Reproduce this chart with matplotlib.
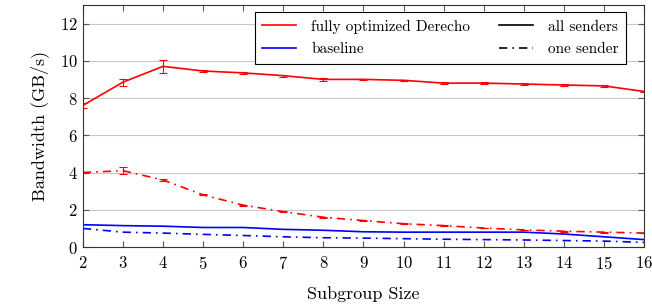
import matplotlib.pyplot as plt
import numpy as np

plt.rcParams['font.family'] = 'serif'
plt.rcParams['font.serif'] = ['cmr10']
plt.rcParams['mathtext.fontset'] = 'cm'
plt.rcParams['axes.formatter.use_mathtext'] = True

# Subgroup sizes
sizes = np.arange(2, 17)

# fully optimized Derecho
derecho_all = [7.6, 8.85, 9.7, 9.45, 9.35, 9.2, 9.0, 9.0, 8.95, 8.8, 8.8, 8.75, 8.7, 8.65, 8.35]
derecho_all_err = [0.12, 0.18, 0.33, 0.05, 0.06, 0.05, 0.06, 0.04, 0.04, 0.04, 0.04, 0.04, 0.04, 0.05, 0.05]
derecho_one = [4.0, 4.1, 3.6, 2.8, 2.25, 1.9, 1.6, 1.42, 1.25, 1.15, 1.02, 0.92, 0.85, 0.8, 0.75]
derecho_one_err = [0.04, 0.18, 0.04, 0.03, 0.03, 0.03, 0.03, 0.02, 0.02, 0.02, 0.02, 0.02, 0.02, 0.02, 0.02]

# baseline
baseline_all = [1.2, 1.15, 1.12, 1.05, 1.05, 0.95, 0.9, 0.82, 0.8, 0.8, 0.8, 0.8, 0.7, 0.55, 0.4]
baseline_one = [1.0, 0.8, 0.75, 0.68, 0.62, 0.55, 0.5, 0.48, 0.45, 0.42, 0.4, 0.38, 0.35, 0.32, 0.25]

dashdot = (0, (5, 3, 1, 3))

fig = plt.figure(figsize=(6.52, 3.05), dpi=100)
ax = fig.add_axes([0.127, 0.19, 0.861, 0.794])

ax.errorbar(sizes, derecho_all, yerr=derecho_all_err, color='red', lw=1.2, capsize=3, elinewidth=0.8, capthick=0.8)
ax.errorbar(sizes, derecho_one, yerr=derecho_one_err, color='red', lw=1.2, capsize=3, elinewidth=0.8, capthick=0.8, linestyle=dashdot)
ax.plot(sizes, baseline_all, color='blue', lw=1.2)
ax.plot(sizes, baseline_one, color='blue', lw=1.2, linestyle=dashdot)

ax.set_xlim(2, 16)
ax.set_ylim(0, 13)
ax.set_xticks(sizes)
ax.set_yticks([0, 2, 4, 6, 8, 10, 12])
ax.yaxis.grid(True, color='#c8c8c8', lw=0.8)
ax.set_axisbelow(True)
ax.tick_params(direction='in', top=True, right=True, labelsize=12, length=4, color='#555555')
ax.tick_params(axis='x', pad=6)
for s in ax.spines.values():
    s.set_color('#333333')

ax.set_xlabel('Subgroup Size', fontsize=13, labelpad=10)
ax.set_ylabel('Bandwidth (GB/s)', fontsize=13, labelpad=8)

# legend handles
h1, = ax.plot([], [], color='red', lw=1.2)
h2, = ax.plot([], [], color='blue', lw=1.2)
h3, = ax.plot([], [], color='black', lw=1.2)
h4, = ax.plot([], [], color='black', lw=1.2, linestyle=dashdot)
leg = ax.legend([h1, h2, h3, h4], ['fully optimized Derecho', 'baseline', 'all senders', 'one sender'],
                ncol=2, loc='upper right', bbox_to_anchor=(0.968, 0.972), fontsize=11,
                frameon=True, fancybox=False, edgecolor='black', framealpha=1,
                handlelength=2.2, handletextpad=1.0, columnspacing=1.9, borderpad=0.5,
                labelspacing=0.6, borderaxespad=0)
leg.get_frame().set_linewidth(0.8)

fig.savefig('out.png', dpi=100)
